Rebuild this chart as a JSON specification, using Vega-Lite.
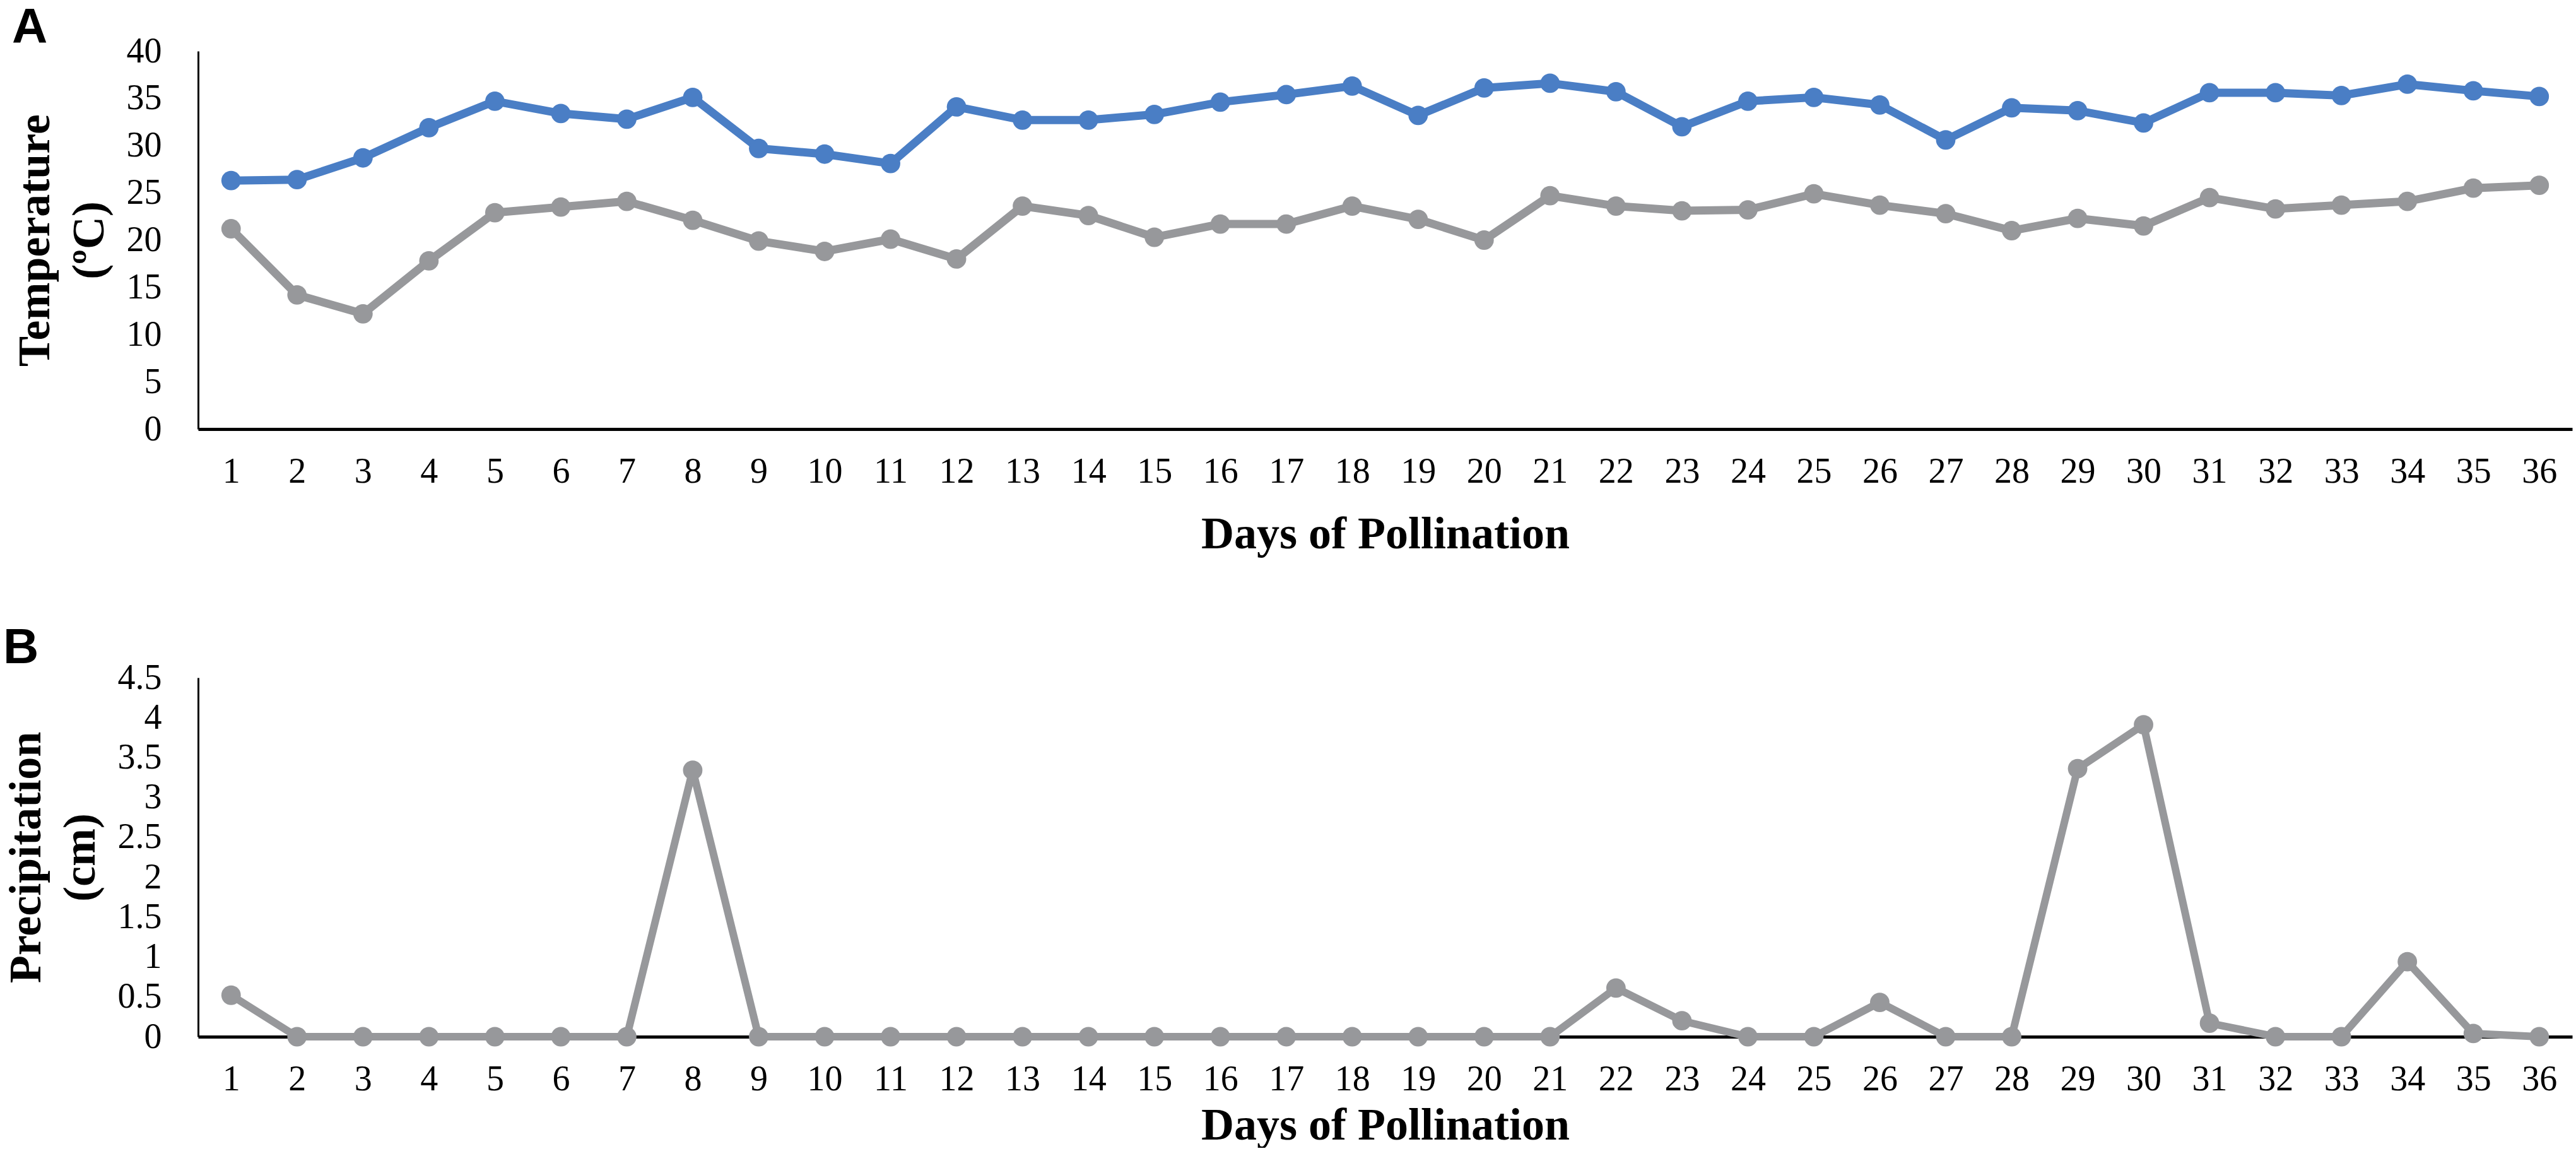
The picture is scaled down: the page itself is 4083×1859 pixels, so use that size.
{
  "$schema": "https://vega.github.io/schema/vega-lite/v6.json",
  "background": "white",
  "padding": {"left": 5, "top": 6, "right": 5, "bottom": 0},
  "spacing": 107,
  "config": {
    "view": {"stroke": null},
    "font": "Liberation Serif",
    "axis": {
      "grid": false,
      "ticks": false,
      "tickSize": 0,
      "domainColor": "#000000",
      "labelFont": "Liberation Serif",
      "labelFontSize": 56,
      "labelColor": "#000000",
      "titleFont": "Liberation Serif",
      "titleFontSize": 72,
      "titleFontWeight": "bold",
      "titleColor": "#000000"
    },
    "axisX": {"domainWidth": 5, "labelPadding": 40, "titlePadding": 36, "labelAngle": 0},
    "axisY": {"domainWidth": 3, "labelPadding": 58, "titlePadding": 22, "titleLineHeight": 86},
    "title": {"font": "Liberation Sans", "fontSize": 78, "fontWeight": "bold", "color": "#000000", "anchor": "start", "frame": "bounds"}
  },
  "datasets": {
    "temp": [
      {"day": 1, "series": "Max", "temp": 26.3}, {"day": 2, "series": "Max", "temp": 26.4},
      {"day": 3, "series": "Max", "temp": 28.7}, {"day": 4, "series": "Max", "temp": 31.9},
      {"day": 5, "series": "Max", "temp": 34.7}, {"day": 6, "series": "Max", "temp": 33.4},
      {"day": 7, "series": "Max", "temp": 32.8}, {"day": 8, "series": "Max", "temp": 35.1},
      {"day": 9, "series": "Max", "temp": 29.7}, {"day": 10, "series": "Max", "temp": 29.1},
      {"day": 11, "series": "Max", "temp": 28.1}, {"day": 12, "series": "Max", "temp": 34.1},
      {"day": 13, "series": "Max", "temp": 32.7}, {"day": 14, "series": "Max", "temp": 32.7},
      {"day": 15, "series": "Max", "temp": 33.3}, {"day": 16, "series": "Max", "temp": 34.6},
      {"day": 17, "series": "Max", "temp": 35.4}, {"day": 18, "series": "Max", "temp": 36.3},
      {"day": 19, "series": "Max", "temp": 33.2}, {"day": 20, "series": "Max", "temp": 36.1},
      {"day": 21, "series": "Max", "temp": 36.6}, {"day": 22, "series": "Max", "temp": 35.7},
      {"day": 23, "series": "Max", "temp": 32.0}, {"day": 24, "series": "Max", "temp": 34.7},
      {"day": 25, "series": "Max", "temp": 35.1}, {"day": 26, "series": "Max", "temp": 34.3},
      {"day": 27, "series": "Max", "temp": 30.6}, {"day": 28, "series": "Max", "temp": 34.0},
      {"day": 29, "series": "Max", "temp": 33.7}, {"day": 30, "series": "Max", "temp": 32.4},
      {"day": 31, "series": "Max", "temp": 35.6}, {"day": 32, "series": "Max", "temp": 35.6},
      {"day": 33, "series": "Max", "temp": 35.3}, {"day": 34, "series": "Max", "temp": 36.5},
      {"day": 35, "series": "Max", "temp": 35.8}, {"day": 36, "series": "Max", "temp": 35.2},
      {"day": 1, "series": "Min", "temp": 21.2}, {"day": 2, "series": "Min", "temp": 14.2},
      {"day": 3, "series": "Min", "temp": 12.2}, {"day": 4, "series": "Min", "temp": 17.8},
      {"day": 5, "series": "Min", "temp": 22.9}, {"day": 6, "series": "Min", "temp": 23.5},
      {"day": 7, "series": "Min", "temp": 24.1}, {"day": 8, "series": "Min", "temp": 22.1},
      {"day": 9, "series": "Min", "temp": 19.9}, {"day": 10, "series": "Min", "temp": 18.8},
      {"day": 11, "series": "Min", "temp": 20.1}, {"day": 12, "series": "Min", "temp": 18.0},
      {"day": 13, "series": "Min", "temp": 23.6}, {"day": 14, "series": "Min", "temp": 22.6},
      {"day": 15, "series": "Min", "temp": 20.3}, {"day": 16, "series": "Min", "temp": 21.7},
      {"day": 17, "series": "Min", "temp": 21.7}, {"day": 18, "series": "Min", "temp": 23.6},
      {"day": 19, "series": "Min", "temp": 22.2}, {"day": 20, "series": "Min", "temp": 20.0},
      {"day": 21, "series": "Min", "temp": 24.7}, {"day": 22, "series": "Min", "temp": 23.6},
      {"day": 23, "series": "Min", "temp": 23.1}, {"day": 24, "series": "Min", "temp": 23.2},
      {"day": 25, "series": "Min", "temp": 24.9}, {"day": 26, "series": "Min", "temp": 23.7},
      {"day": 27, "series": "Min", "temp": 22.8}, {"day": 28, "series": "Min", "temp": 21.0},
      {"day": 29, "series": "Min", "temp": 22.3}, {"day": 30, "series": "Min", "temp": 21.5},
      {"day": 31, "series": "Min", "temp": 24.5}, {"day": 32, "series": "Min", "temp": 23.3},
      {"day": 33, "series": "Min", "temp": 23.7}, {"day": 34, "series": "Min", "temp": 24.1},
      {"day": 35, "series": "Min", "temp": 25.5}, {"day": 36, "series": "Min", "temp": 25.8}
    ],
    "rain": [
      {"day": 1, "precip": 0.52}, {"day": 2, "precip": 0}, {"day": 3, "precip": 0},
      {"day": 4, "precip": 0}, {"day": 5, "precip": 0}, {"day": 6, "precip": 0},
      {"day": 7, "precip": 0}, {"day": 8, "precip": 3.34}, {"day": 9, "precip": 0},
      {"day": 10, "precip": 0}, {"day": 11, "precip": 0}, {"day": 12, "precip": 0},
      {"day": 13, "precip": 0}, {"day": 14, "precip": 0}, {"day": 15, "precip": 0},
      {"day": 16, "precip": 0}, {"day": 17, "precip": 0}, {"day": 18, "precip": 0},
      {"day": 19, "precip": 0}, {"day": 20, "precip": 0}, {"day": 21, "precip": 0},
      {"day": 22, "precip": 0.61}, {"day": 23, "precip": 0.2}, {"day": 24, "precip": 0},
      {"day": 25, "precip": 0}, {"day": 26, "precip": 0.43}, {"day": 27, "precip": 0},
      {"day": 28, "precip": 0}, {"day": 29, "precip": 3.36}, {"day": 30, "precip": 3.91},
      {"day": 31, "precip": 0.17}, {"day": 32, "precip": 0}, {"day": 33, "precip": 0},
      {"day": 34, "precip": 0.94}, {"day": 35, "precip": 0.04}, {"day": 36, "precip": 0}
    ]
  },
  "vconcat": [
    {
      "title": {"text": "A", "offset": -31},
      "width": 3763,
      "height": 599,
      "data": {"name": "temp"},
      "mark": {"type": "line", "strokeWidth": 13, "point": {"filled": true, "size": 950, "opacity": 1}},
      "encoding": {
        "x": {
          "field": "day",
          "type": "ordinal",
          "scale": {"type": "point", "padding": 0.5},
          "axis": {"title": "Days of Pollination"}
        },
        "y": {
          "field": "temp",
          "type": "quantitative",
          "scale": {"domain": [0, 40], "nice": false},
          "axis": {"values": [0, 5, 10, 15, 20, 25, 30, 35, 40], "title": ["Temperature", "(ºC)"]}
        },
        "color": {
          "field": "series",
          "type": "nominal",
          "scale": {"domain": ["Max", "Min"], "range": ["#4A7EC5", "#97989B"]},
          "legend": null
        }
      }
    },
    {
      "title": {"text": "B", "offset": -21},
      "width": 3763,
      "height": 569,
      "data": {"name": "rain"},
      "mark": {"type": "line", "strokeWidth": 12, "color": "#97989B", "point": {"filled": true, "size": 950, "opacity": 1, "color": "#97989B"}},
      "encoding": {
        "x": {
          "field": "day",
          "type": "ordinal",
          "scale": {"type": "point", "padding": 0.5},
          "axis": {"title": "Days of Pollination", "titlePadding": 10}
        },
        "y": {
          "field": "precip",
          "type": "quantitative",
          "scale": {"domain": [0, 4.5], "nice": false},
          "axis": {"values": [0, 0.5, 1, 1.5, 2, 2.5, 3, 3.5, 4, 4.5], "format": "~g", "title": ["Precipitation", "(cm)"]}
        }
      }
    }
  ]
}
